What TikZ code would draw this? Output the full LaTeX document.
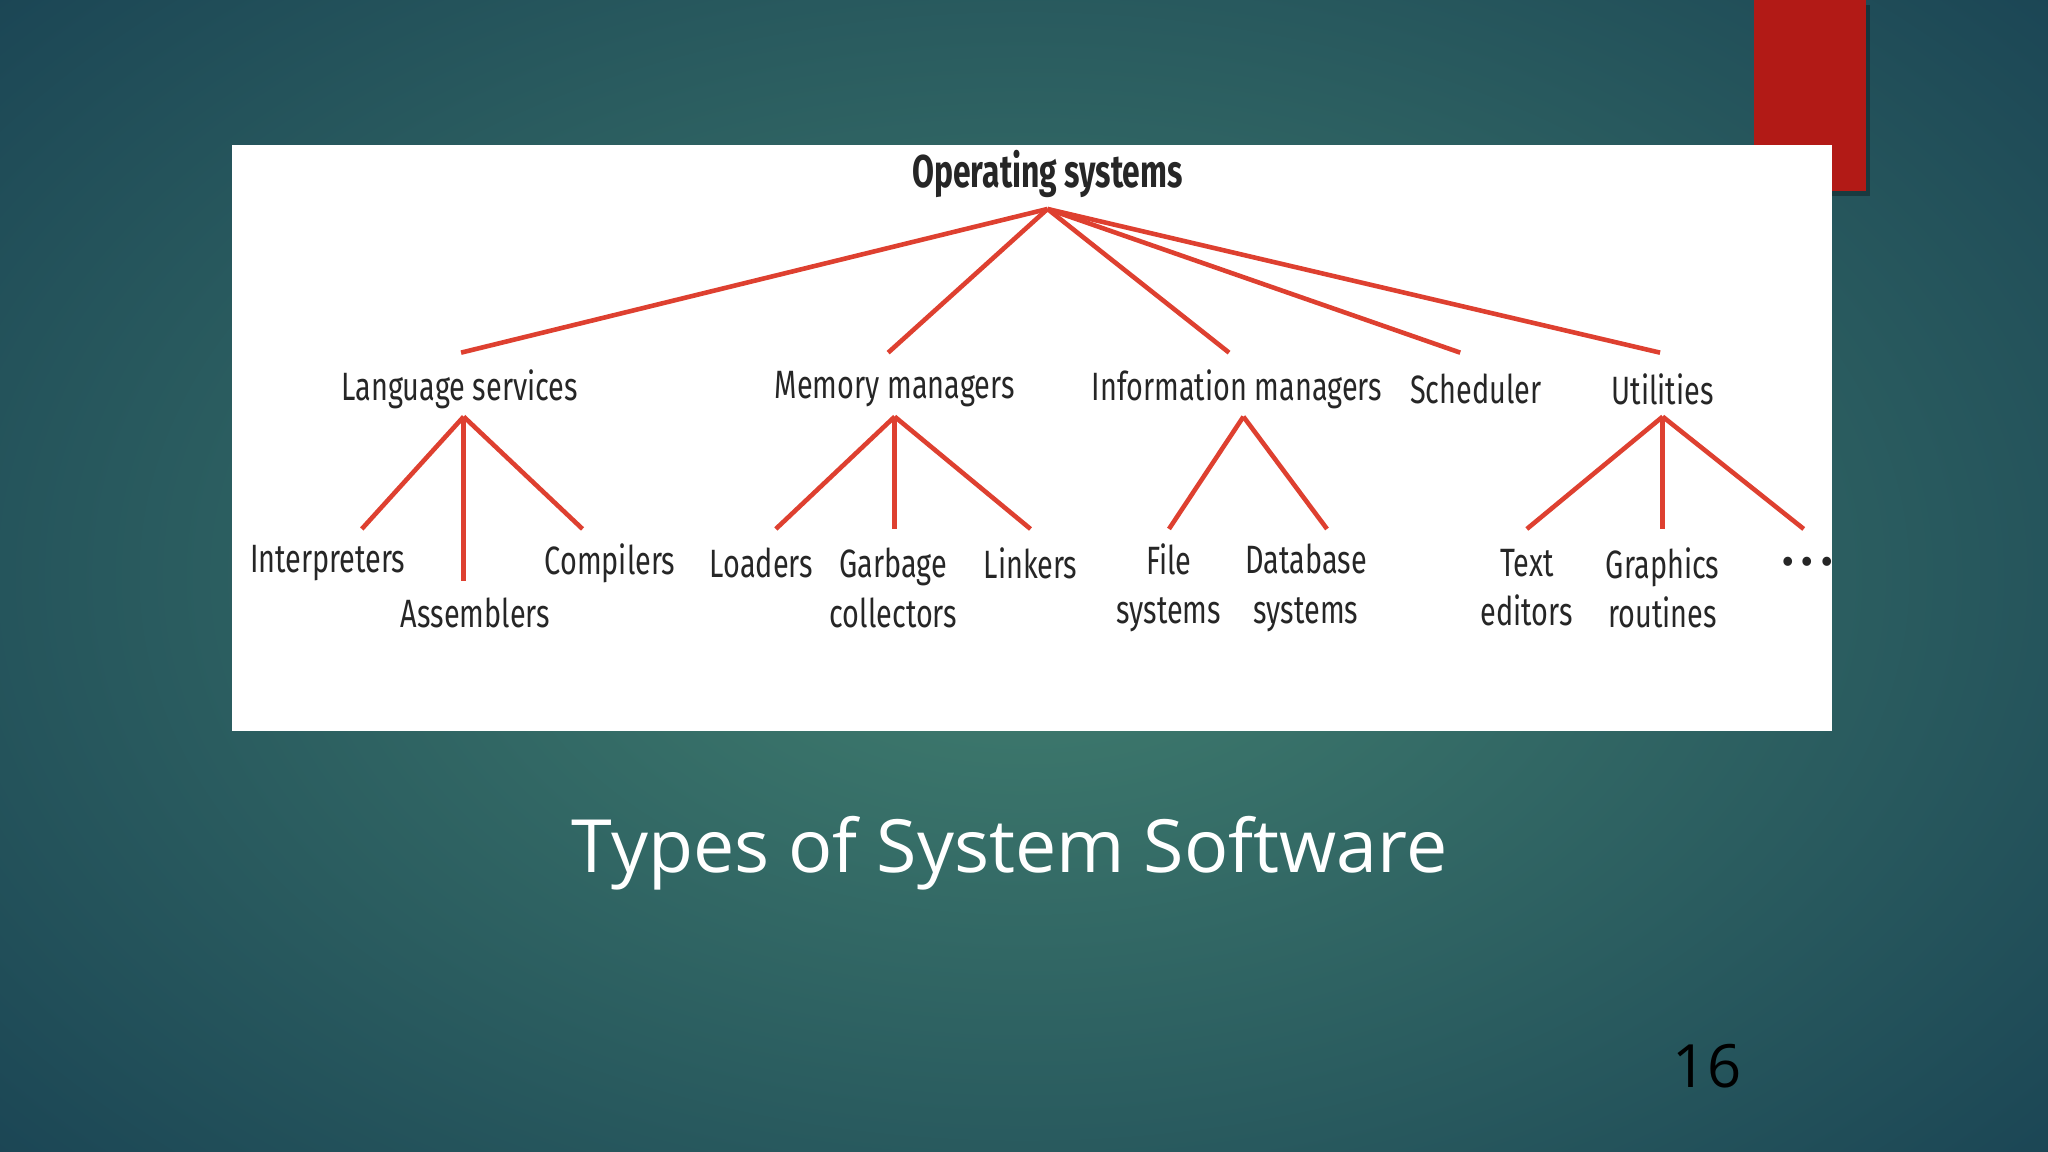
\documentclass[tikz,border=0pt]{standalone}
\usepackage{fontspec}
\setmainfont{Fira Sans}
\newfontfamily\titlefont{Open Sans}
\definecolor{bgin}{RGB}{66,128,112}
\definecolor{bgout}{RGB}{26,68,84}
\definecolor{redbox}{RGB}{178,26,22}
\definecolor{linered}{RGB}{222,64,48}
\begin{document}
\begin{tikzpicture}[x=0.01cm,y=-0.01cm,
  lbl/.style={inner sep=0pt,align=center,font=\fontsize{8.6}{10.8}\selectfont,xscale=0.73,transform shape,text=black!85},
  edge/.style={draw=linered,line width=1pt}]
\useasboundingbox (0,0) rectangle (1568,882);
\shade[inner color=bgin,outer color=bgout] (-300,-250) rectangle (1868,1132);
\fill[black,opacity=0.3] (1347,4) rectangle (1432,150);
\fill[redbox] (1343,0) rectangle (1429,146);
\fill[white] (178,111) rectangle (1403,560);
% nodes
\node[lbl,font=\fontsize{10}{12}\selectfont\bfseries,xscale=0.95] (os) at (802,133) {Operating systems};
\node[lbl] (ls) at (352,298) {Language services};
\node[lbl] (mm) at (685,298) {Memory managers};
\node[lbl] (im) at (947,298) {Information managers};
\node[lbl] (sc) at (1130,298) {Scheduler};
\node[lbl] (ut) at (1273,298) {Utilities};
\node[lbl] (in) at (251,431) {Interpreters};
\node[lbl] (as) at (364,469) {Assemblers};
\node[lbl] (co) at (467,431) {Compilers};
\node[lbl] (lo) at (583,431) {Loaders};
\node[lbl] (gc) at (684,450) {Garbage\\collectors};
\node[lbl] (li) at (789,431) {Linkers};
\node[lbl] (fs) at (895,450) {File\\systems};
\node[lbl] (db) at (1000,450) {Database\\systems};
\node[lbl] (te) at (1169,450) {Text\\editors};
\node[lbl] (gr) at (1273,450) {Graphics\\routines};
\node[lbl,font=\fontsize{11}{12}\selectfont\bfseries,xscale=1.3] (dd) at (1384,430) {.\,.\,.};
% coordinates
\coordinate (r) at (802,160);
\coordinate (e1) at (353,270); \coordinate (e2) at (680,270); \coordinate (e3) at (941,270);
\coordinate (e4) at (1118,270); \coordinate (e5) at (1271,270);
\coordinate (a1) at (355,319); \coordinate (a2) at (685,319); \coordinate (a3) at (952,319); \coordinate (a4) at (1273,319);
\coordinate (b1) at (277,405); \coordinate (b2) at (355,445); \coordinate (b3) at (446,405);
\coordinate (c1) at (594,405); \coordinate (c2) at (685,405); \coordinate (c3) at (789,405);
\coordinate (d1) at (895,405); \coordinate (d2) at (1016,405);
\coordinate (f1) at (1169,405); \coordinate (f2) at (1273,405); \coordinate (f3) at (1381,405);
\foreach \e in {e1,e2,e3,e4,e5} \draw[edge] (r) -- (\e);
\foreach \e in {b1,b2,b3} \draw[edge] (a1) -- (\e);
\foreach \e in {c1,c2,c3} \draw[edge] (a2) -- (\e);
\foreach \e in {d1,d2} \draw[edge] (a3) -- (\e);
\foreach \e in {f1,f2,f3} \draw[edge] (a4) -- (\e);
\node[font=\titlefont\fontsize{16}{19}\selectfont,text=white] (title) at (773,653) {Types of System Software};
\node[font=\titlefont\fontsize{13}{15}\selectfont,text=black] (pg) at (1307,816) {16};
\end{tikzpicture}
\end{document}
